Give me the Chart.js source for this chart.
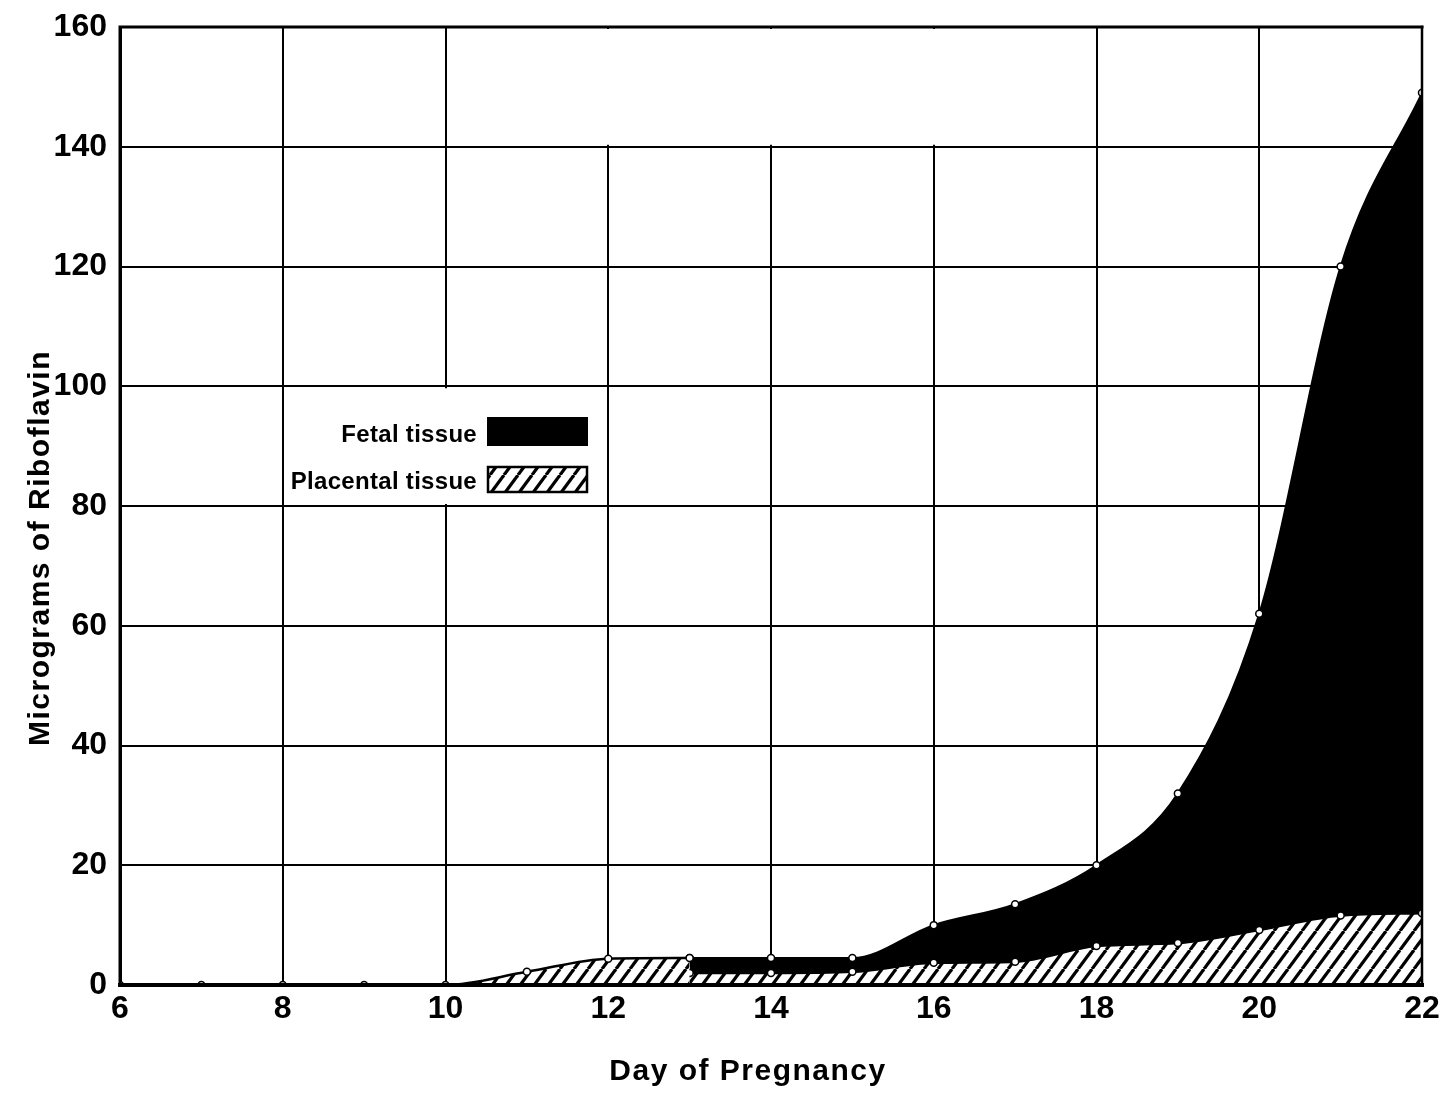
<!DOCTYPE html>
<html>
<head>
<meta charset="utf-8">
<title>Riboflavin in fetal and placental tissue</title>
<script src="https://cdn.jsdelivr.net/npm/chart.js@4.4.1/dist/chart.umd.min.js"></script>
<style>
  html, body { margin: 0; padding: 0; background: #fff; }
  #wrap { width: 1441px; height: 1093px; position: relative; }
  canvas { display: block; }
</style>
</head>
<body>
<div id="wrap"><canvas id="chart" width="1441" height="1093"></canvas></div>
<script>
// Day of pregnancy and micrograms of riboflavin
const earlyDays      = [6, 7, 8, 9, 10, 11, 12, 13];
const placentaEarly  = [0, 0, 0, 0, 0, 2.2, 4.4, 4.5];   // whole conceptus, before separation
const lateDays       = [13, 14, 15, 16, 17, 18, 19, 20, 21, 22];
const placentaLate   = [2.0, 2.0, 2.2, 3.7, 3.9, 6.5, 7.0, 9.2, 11.6, 12.0];
const fetalTotal     = [4.5, 4.5, 4.5, 10, 13.5, 20, 32, 62, 120, 149]; // fetal + placental
const xTickValues    = [6, 8, 10, 12, 14, 16, 18, 20, 22];
const yTickValues    = [0, 20, 40, 60, 80, 100, 120, 140, 160];
const xTitle = 'Day of Pregnancy';
const yTitle = 'Micrograms of Riboflavin';
const legendItems = ['Fetal tissue', 'Placental tissue'];

const FONT = "'Liberation Sans', Arial, sans-serif";

function pairs(xs, ys) { return xs.map((x, i) => ({ x: x, y: ys[i] })); }

// diagonal hatch tile ("/" strokes on white)
function makeHatch() {
  const w = 14, h = 19;
  const c = document.createElement('canvas');
  c.width = w; c.height = h;
  const g = c.getContext('2d');
  g.fillStyle = '#fff';
  g.fillRect(0, 0, w, h);
  g.strokeStyle = '#000';
  g.lineWidth = 3.2;
  for (const k of [-1, 0, 1]) {
    g.beginPath();
    g.moveTo(k * w, h);
    g.lineTo(k * w + w, 0);
    g.stroke();
  }
  return g.createPattern(c, 'repeat');
}
const hatch = makeHatch();

const pointStyle = {
  pointRadius: 3.5,
  pointBorderWidth: 1.5,
  pointBackgroundColor: '#fff',
  pointBorderColor: '#000',
  pointHoverRadius: 3.5
};

// grid segments that are left blank, axis lines on top, legend and titles
const decor = {
  id: 'decor',
  beforeDatasetsDraw(chart) {
    const { ctx } = chart;
    const x = chart.scales.x, y = chart.scales.y;
    ctx.save();
    ctx.fillStyle = '#fff';
    // top band 140-160 has no verticals at 12, 14, 16
    ctx.fillRect(x.getPixelForValue(12) - 3, y.getPixelForValue(160) + 2,
                 x.getPixelForValue(16) - x.getPixelForValue(12) + 6,
                 y.getPixelForValue(140) - y.getPixelForValue(160) - 4);
    // legend cell: no vertical at day 10
    ctx.fillRect(x.getPixelForValue(10) - 3, y.getPixelForValue(100) + 2,
                 6, y.getPixelForValue(80) - y.getPixelForValue(100) - 4);
    ctx.restore();
  },
  afterDatasetsDraw(chart) {
    const { ctx, chartArea: a } = chart;
    ctx.save();
    ctx.strokeStyle = '#000';
    ctx.lineCap = 'square';
    ctx.lineWidth = 4;
    ctx.beginPath();
    ctx.moveTo(a.left, a.bottom);
    ctx.lineTo(a.right, a.bottom);
    ctx.stroke();
    ctx.lineWidth = 3;
    ctx.beginPath();
    ctx.moveTo(a.left, a.bottom);
    ctx.lineTo(a.left, a.top);
    ctx.lineTo(a.right, a.top);
    ctx.stroke();
    ctx.lineWidth = 2.5;
    ctx.beginPath();
    ctx.moveTo(a.right, a.top);
    ctx.lineTo(a.right, a.bottom);
    ctx.stroke();
    ctx.restore();
  },
  afterDraw(chart) {
    const { ctx } = chart;
    ctx.save();
    ctx.fillStyle = '#000';
    // axis titles
    ctx.font = 'bold 30px ' + FONT;
    ctx.textAlign = 'center';
    ctx.textBaseline = 'middle';
    ctx.letterSpacing = '1.5px';
    ctx.fillText(xTitle, 748, 1072);
    ctx.translate(41, 548);
    ctx.rotate(-Math.PI / 2);
    ctx.fillText(yTitle, 0, 0);
    ctx.restore();

    // legend
    ctx.save();
    ctx.font = 'bold 24px ' + FONT;
    ctx.letterSpacing = '0.3px';
    ctx.textAlign = 'right';
    ctx.textBaseline = 'middle';
    ctx.fillStyle = '#000';
    ctx.fillText(legendItems[0], 477, 435);
    ctx.fillText(legendItems[1], 477, 482);
    ctx.fillRect(487, 417, 101, 29);
    ctx.fillStyle = hatch;
    ctx.fillRect(487, 466, 101, 27);
    ctx.strokeStyle = '#000';
    ctx.lineWidth = 2.5;
    ctx.strokeRect(488, 467, 99, 25);
    ctx.restore();
  }
};

new Chart(document.getElementById('chart'), {
  type: 'line',
  data: {
    datasets: [
      Object.assign({
        label: 'Placental tissue (days 6-13)',
        data: pairs(earlyDays, placentaEarly),
        borderColor: '#000',
        borderWidth: 2.5,
        backgroundColor: hatch,
        fill: 'origin',
        cubicInterpolationMode: 'monotone',
        order: 0
      }, pointStyle),
      Object.assign({
        label: 'Placental tissue',
        data: pairs(lateDays, placentaLate),
        borderColor: '#000',
        borderWidth: 2.5,
        backgroundColor: hatch,
        fill: 'origin',
        cubicInterpolationMode: 'monotone',
        order: 1
      }, pointStyle),
      Object.assign({
        label: 'Fetal tissue',
        data: pairs(lateDays, fetalTotal),
        borderColor: '#000',
        borderWidth: 2,
        backgroundColor: '#000',
        fill: 'origin',
        cubicInterpolationMode: 'monotone',
        order: 2
      }, pointStyle)
    ]
  },
  options: {
    responsive: false,
    animation: false,
    devicePixelRatio: 1,
    layout: { padding: { left: 0, top: 27, right: 19, bottom: 0 } },
    plugins: { legend: { display: false }, tooltip: { enabled: false } },
    events: [],
    scales: {
      x: {
        type: 'linear',
        min: 6, max: 22,
        afterBuildTicks(s) { s.ticks = xTickValues.map(v => ({ value: v })); },
        afterFit(s) { s.height = 108; s.paddingLeft = 0; s.paddingRight = 0; },
        grid: { color: '#000', lineWidth: 2, drawTicks: false },
        border: { color: '#000', width: 4 },
        ticks: {
          color: '#000',
          padding: 5,
          maxRotation: 0,
          autoSkip: false,
          font: { family: FONT, size: 32, weight: 'bold' },
          callback: v => String(v)
        }
      },
      y: {
        type: 'linear',
        min: 0, max: 160,
        afterBuildTicks(s) { s.ticks = yTickValues.map(v => ({ value: v })); },
        afterFit(s) { s.width = 120; s.paddingTop = 0; s.paddingBottom = 0; },
        grid: { color: '#000', lineWidth: 2, drawTicks: false },
        border: { color: '#000', width: 3 },
        ticks: {
          color: '#000',
          padding: 13,
          autoSkip: false,
          font: { family: FONT, size: 32, weight: 'bold' },
          callback: v => String(v)
        }
      }
    }
  },
  plugins: [decor]
});
</script>
</body>
</html>
